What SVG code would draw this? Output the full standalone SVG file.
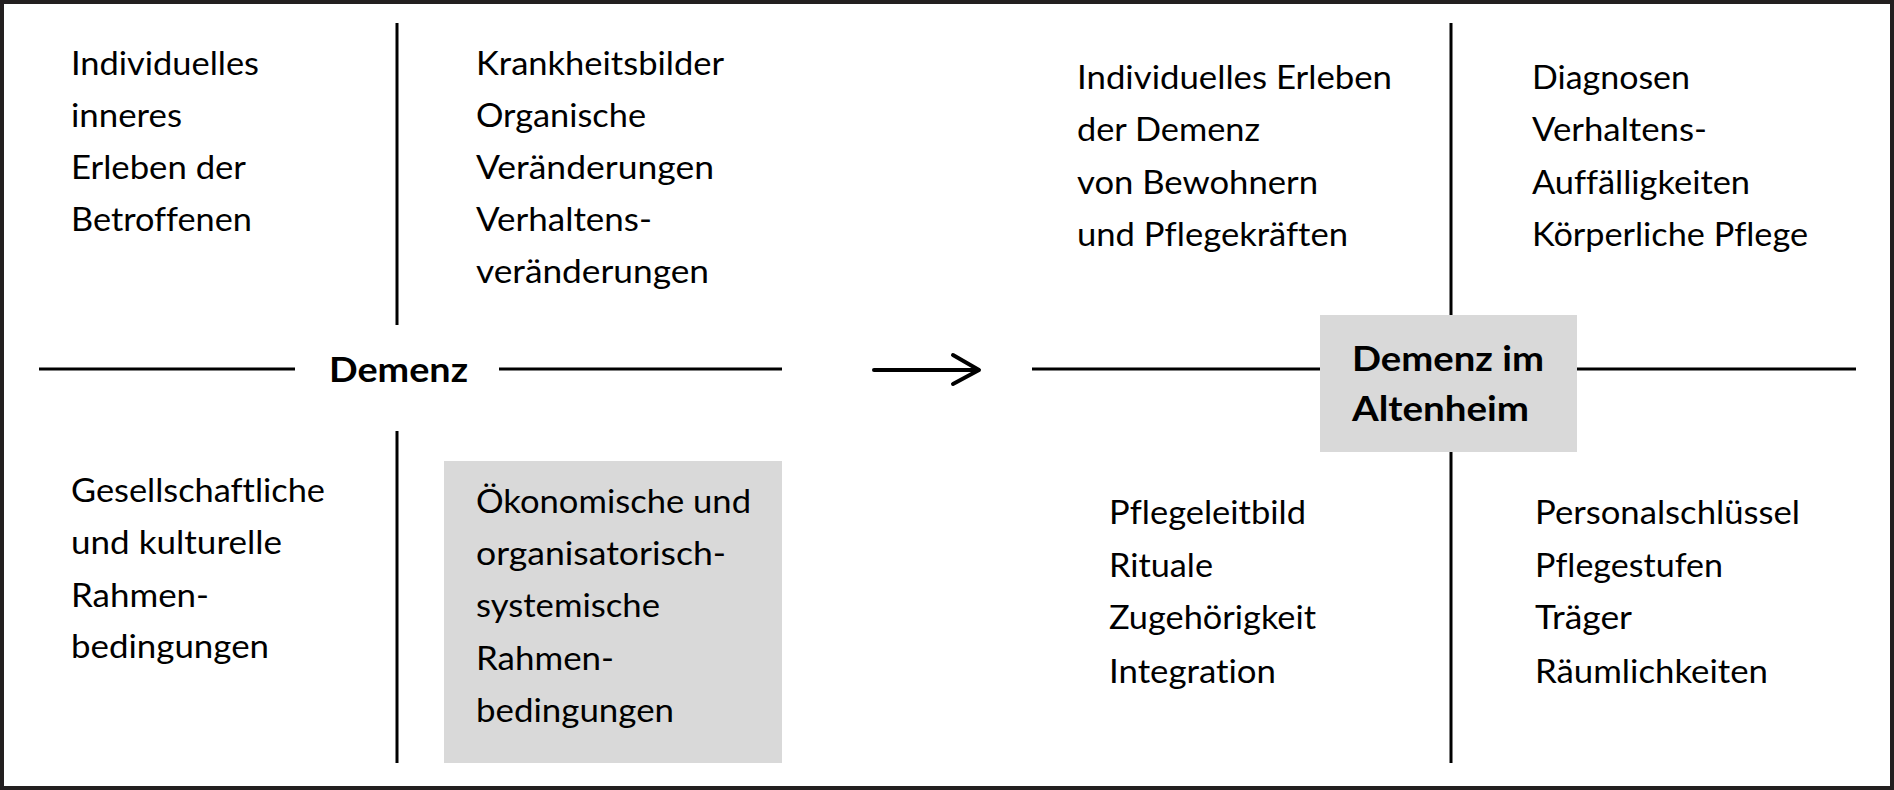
<svg xmlns="http://www.w3.org/2000/svg" width="1894" height="790" viewBox="0 0 1894 790">
<style>
  .t { font-family: Lato, "Open Sans", "Liberation Sans", sans-serif; font-size: 32px; fill: #000; font-variant-ligatures: none; }
  .b { font-family: Lato, "Open Sans", "Liberation Sans", sans-serif; font-size: 35px; font-weight: bold; fill: #000; font-variant-ligatures: none; }
  .box { fill: #d9d9d9; stroke: none; }
  .ln { stroke: #000; stroke-width: 3; fill: none; }
  .ar { stroke: #000; stroke-width: 4; fill: none; stroke-linecap: round; stroke-linejoin: round; }
</style>
<rect x="0" y="0" width="1894" height="790" fill="#fff"/>
<rect x="2" y="2" width="1890" height="786" fill="none" stroke="#231f20" stroke-width="4"/>

<g id="connectors">
  <line class="ln" x1="39" y1="369" x2="295" y2="369"/>
  <line class="ln" x1="499" y1="369" x2="782" y2="369"/>
  <line class="ln" x1="1032" y1="369" x2="1320" y2="369"/>
  <line class="ln" x1="1577" y1="369" x2="1856" y2="369"/>
  <line class="ln" x1="397" y1="23" x2="397" y2="325"/>
  <line class="ln" x1="397" y1="431" x2="397" y2="763"/>
  <line class="ln" x1="1451" y1="23" x2="1451" y2="315"/>
  <line class="ln" x1="1451" y1="452" x2="1451" y2="763"/>
  <g id="arrow">
    <line class="ar" x1="874" y1="370" x2="978" y2="370"/>
    <polyline class="ar" points="953,355 979,370 953,384"/>
  </g>
</g>

<g id="demenz">
  <text class="b" x="329" y="382" textLength="139" lengthAdjust="spacingAndGlyphs">Demenz</text>
</g>

<g id="q-individuell">
  <text class="t" x="71" y="75" textLength="188" lengthAdjust="spacingAndGlyphs">Individuelles</text>
  <text class="t" x="71" y="127" textLength="111" lengthAdjust="spacingAndGlyphs">inneres</text>
  <text class="t" x="71" y="179" textLength="175" lengthAdjust="spacingAndGlyphs">Erleben der</text>
  <text class="t" x="71" y="231" textLength="181" lengthAdjust="spacingAndGlyphs">Betroffenen</text>
</g>

<g id="q-krankheit">
  <text class="t" x="476" y="75" textLength="248" lengthAdjust="spacingAndGlyphs">Krankheitsbilder</text>
  <text class="t" x="476" y="127" textLength="170" lengthAdjust="spacingAndGlyphs">Organische</text>
  <text class="t" x="476" y="179" textLength="238" lengthAdjust="spacingAndGlyphs">Veränderungen</text>
  <text class="t" x="476" y="231" textLength="176" lengthAdjust="spacingAndGlyphs">Verhaltens-</text>
  <text class="t" x="476" y="283" textLength="233" lengthAdjust="spacingAndGlyphs">veränderungen</text>
</g>

<g id="q-gesellschaft">
  <text class="t" x="71" y="502" textLength="254" lengthAdjust="spacingAndGlyphs">Gesellschaftliche</text>
  <text class="t" x="71" y="554" textLength="211" lengthAdjust="spacingAndGlyphs">und kulturelle</text>
  <text class="t" x="71" y="607" textLength="138" lengthAdjust="spacingAndGlyphs">Rahmen-</text>
  <text class="t" x="71" y="658" textLength="198" lengthAdjust="spacingAndGlyphs">bedingungen</text>
</g>

<g id="q-oekonomisch">
  <rect class="box" x="444" y="461" width="338" height="302"/>
  <text class="t" x="476" y="513" textLength="275" lengthAdjust="spacingAndGlyphs">Ökonomische und</text>
  <text class="t" x="476" y="565" textLength="250" lengthAdjust="spacingAndGlyphs">organisatorisch-</text>
  <text class="t" x="476" y="617" textLength="184" lengthAdjust="spacingAndGlyphs">systemische</text>
  <text class="t" x="476" y="670" textLength="138" lengthAdjust="spacingAndGlyphs">Rahmen-</text>
  <text class="t" x="476" y="722" textLength="198" lengthAdjust="spacingAndGlyphs">bedingungen</text>
</g>

<g id="demenz-altenheim">
  <rect class="box" x="1320" y="315" width="257" height="137"/>
  <text class="b" x="1352" y="371" textLength="192" lengthAdjust="spacingAndGlyphs">Demenz im</text>
  <text class="b" x="1352" y="421" textLength="177" lengthAdjust="spacingAndGlyphs">Altenheim</text>
</g>

<g id="q-erleben">
  <text class="t" x="1077" y="89" textLength="315" lengthAdjust="spacingAndGlyphs">Individuelles Erleben</text>
  <text class="t" x="1077" y="141" textLength="183" lengthAdjust="spacingAndGlyphs">der Demenz</text>
  <text class="t" x="1077" y="194" textLength="241" lengthAdjust="spacingAndGlyphs">von Bewohnern</text>
  <text class="t" x="1077" y="246" textLength="271" lengthAdjust="spacingAndGlyphs">und Pflegekräften</text>
</g>

<g id="q-diagnosen">
  <text class="t" x="1532" y="89" textLength="158" lengthAdjust="spacingAndGlyphs">Diagnosen</text>
  <text class="t" x="1532" y="141" textLength="175" lengthAdjust="spacingAndGlyphs">Verhaltens-</text>
  <text class="t" x="1532" y="194" textLength="218" lengthAdjust="spacingAndGlyphs">Auffälligkeiten</text>
  <text class="t" x="1532" y="246" textLength="276" lengthAdjust="spacingAndGlyphs">Körperliche Pflege</text>
</g>

<g id="q-pflegeleitbild">
  <text class="t" x="1109" y="524" textLength="197" lengthAdjust="spacingAndGlyphs">Pflegeleitbild</text>
  <text class="t" x="1109" y="577" textLength="104" lengthAdjust="spacingAndGlyphs">Rituale</text>
  <text class="t" x="1109" y="629" textLength="207" lengthAdjust="spacingAndGlyphs">Zugehörigkeit</text>
  <text class="t" x="1109" y="683" textLength="167" lengthAdjust="spacingAndGlyphs">Integration</text>
</g>

<g id="q-personal">
  <text class="t" x="1535" y="524" textLength="265" lengthAdjust="spacingAndGlyphs">Personalschlüssel</text>
  <text class="t" x="1535" y="577" textLength="188" lengthAdjust="spacingAndGlyphs">Pflegestufen</text>
  <text class="t" x="1535" y="629" textLength="97" lengthAdjust="spacingAndGlyphs">Träger</text>
  <text class="t" x="1535" y="683" textLength="233" lengthAdjust="spacingAndGlyphs">Räumlichkeiten</text>
</g>
</svg>
